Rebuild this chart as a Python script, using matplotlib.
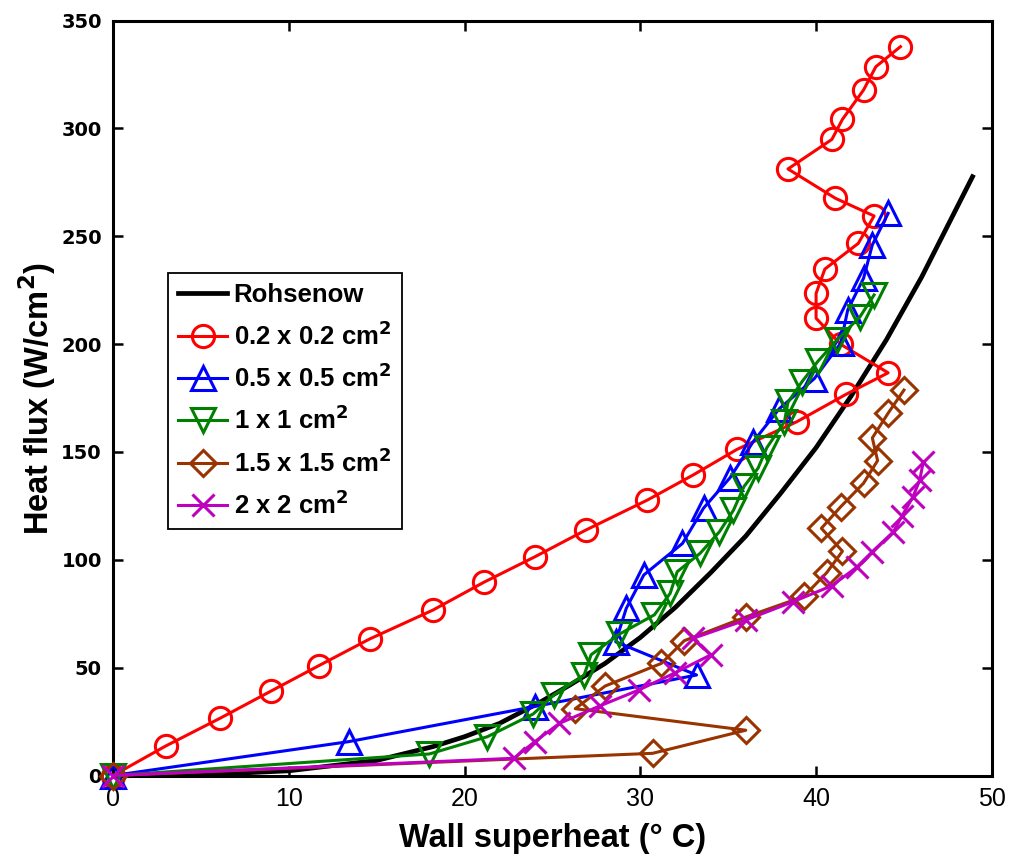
import matplotlib
matplotlib.use('Agg')
import matplotlib.pyplot as plt

plt.rcParams['font.family'] = ['Liberation Sans', 'DejaVu Sans']
plt.rcParams['mathtext.default'] = 'bf'

# Rohsenow correlation
roh_dt = [0, 5, 10, 15, 18.2, 20, 22, 24.3, 26, 28, 30, 32, 34, 36, 38, 40,
          42, 44, 46, 48.9]
roh_q = [0, 0.3, 2.2, 7, 13.4, 18, 24.2, 34, 42, 52, 64, 78, 94, 111, 131, 152,
         176, 202, 231, 277.6]

# 0.2 x 0.2 cm2
dt_02 = [0, 3.0, 6.1, 9.0, 11.7, 14.6, 18.2, 21.1, 24.0, 26.9, 30.4, 33.0, 35.5,
         38.9, 41.7, 44.1, 41.4, 40.0, 40.0, 40.5, 42.4, 43.3, 41.1, 38.4, 40.9,
         41.5, 42.7, 43.4, 44.8]
q_02 = [0, 13.7, 26.6, 39.2, 50.9, 63.3, 76.7, 89.6, 101.4, 113.8, 127.7, 139.3, 151.2,
        164, 176.7, 186.7, 199.9, 212, 223.5, 234.8, 246.7, 259.4, 267.6, 281.2, 294.9,
        304.2, 317.8, 328.6, 337.9]

# 0.5 x 0.5 cm2
dt_05 = [0, 13.4, 24.0, 33.2, 28.6, 29.2, 30.2, 32.4, 33.6, 35.1, 36.4, 37.9, 39.9,
         41.4, 41.8, 42.7, 43.2, 44.1]
q_05 = [0, 15.7, 32, 46.6, 62, 77.5, 93, 107.6, 124, 138, 154.5, 170, 184,
        200.4, 215.8, 230.5, 246, 260.6]

# 1 x 1 cm2
dt_1 = [0, 18.0, 21.3, 23.9, 25.1, 26.8, 27.2, 28.8, 30.8, 31.7, 32.1, 33.4, 34.5,
        35.3, 35.9, 36.7, 37.2, 38.2, 38.4, 39.2, 40.1, 41.2, 42.5, 43.3]
q_1 = [0, 10, 18, 28.5, 37.5, 46.5, 56, 65.5, 74.5, 84.5, 94.5, 103, 113,
       123, 134, 142.5, 152, 164, 173, 182.6, 192, 202, 212.7, 222.8]

# 1.5 x 1.5 cm2
dt_15 = [0, 30.7, 36.0, 26.3, 28.0, 31.2, 32.5, 36.0, 39.3, 40.6, 41.5, 40.3, 41.4,
         42.7, 43.5, 43.2, 44.1, 45.0]
q_15 = [0, 10.3, 21, 31, 41.5, 52, 62.5, 73.5, 83, 94, 104, 114.6, 124.6,
        135.5, 146, 156.5, 168, 178.7]

# 2 x 2 cm2
dt_2 = [0, 22.8, 24.0, 25.4, 27.7, 29.9, 32.0, 34.0, 33.0, 36.0, 38.7, 40.9, 42.3,
        43.2, 44.4, 44.9, 45.5, 45.9, 46.1]
q_2 = [0, 8, 15.7, 24.2, 32.3, 39.6, 47.7, 55.9, 63.6, 72.1, 80.6, 88, 96.5,
       103.8, 113, 120.5, 129, 137, 145.5]

fig = plt.figure(figsize=(10.09, 8.56), dpi=100)
ax = fig.add_axes([0.112, 0.094, 0.871, 0.882])

lw = 2.2
ms = 16
ax.plot(roh_dt, roh_q, '-', color='black', lw=3.4, label='Rohsenow', zorder=3)
ax.plot(dt_02, q_02, '-o', color='#ff0000', lw=lw, ms=ms, mew=lw, mfc='none',
        label='0.2 x 0.2 cm$^{2}$', clip_on=False, zorder=4)
ax.plot(dt_05, q_05, '-^', color='#0000ff', lw=lw, ms=ms + 1, mew=lw, mfc='none',
        label='0.5 x 0.5 cm$^{2}$', clip_on=False, zorder=4)
ax.plot(dt_1, q_1, '-v', color='#008000', lw=lw, ms=ms + 1, mew=lw, mfc='none',
        label='1 x 1 cm$^{2}$', clip_on=False, zorder=4)
ax.plot(dt_15, q_15, '-D', color='#993300', lw=lw, ms=ms * 0.85, mew=lw, mfc='none',
        label='1.5 x 1.5 cm$^{2}$', clip_on=False, zorder=4)
ax.plot(dt_2, q_2, '-x', color='#bf00bf', lw=lw, ms=ms, mew=lw,
        label='2 x 2 cm$^{2}$', clip_on=False, zorder=4)

ax.set_xlim(0, 50)
ax.set_ylim(0, 350)
ax.set_xticks(range(0, 51, 10))
ax.set_yticks(range(0, 351, 50))
ax.tick_params(direction='in', length=7, width=1.8, top=True, right=True, pad=8)
for lab in ax.get_xticklabels():
    lab.set_fontsize(18)
for lab in ax.get_yticklabels():
    lab.set_family('DejaVu Sans')
    lab.set_fontweight('bold')
    lab.set_fontsize(14)
for sp in ax.spines.values():
    sp.set_linewidth(2.2)

ax.set_xlabel('Wall superheat (° C)', fontsize=23.5, fontweight='bold', labelpad=9)
ax.set_ylabel('Heat flux (W/cm$^{2}$)', fontsize=23.5, fontweight='bold', labelpad=2)

leg = ax.legend(loc='upper left', bbox_to_anchor=(0.0626, 0.6656), fancybox=False,
                edgecolor='black', framealpha=1, borderaxespad=0,
                prop={'size': 18.5, 'weight': 'bold'}, handlelength=1.9,
                labelspacing=0.54, markerscale=1.0, handletextpad=0.25,
                borderpad=0.4)
leg.get_frame().set_linewidth(1.3)

fig.savefig('out.png', dpi=100)
